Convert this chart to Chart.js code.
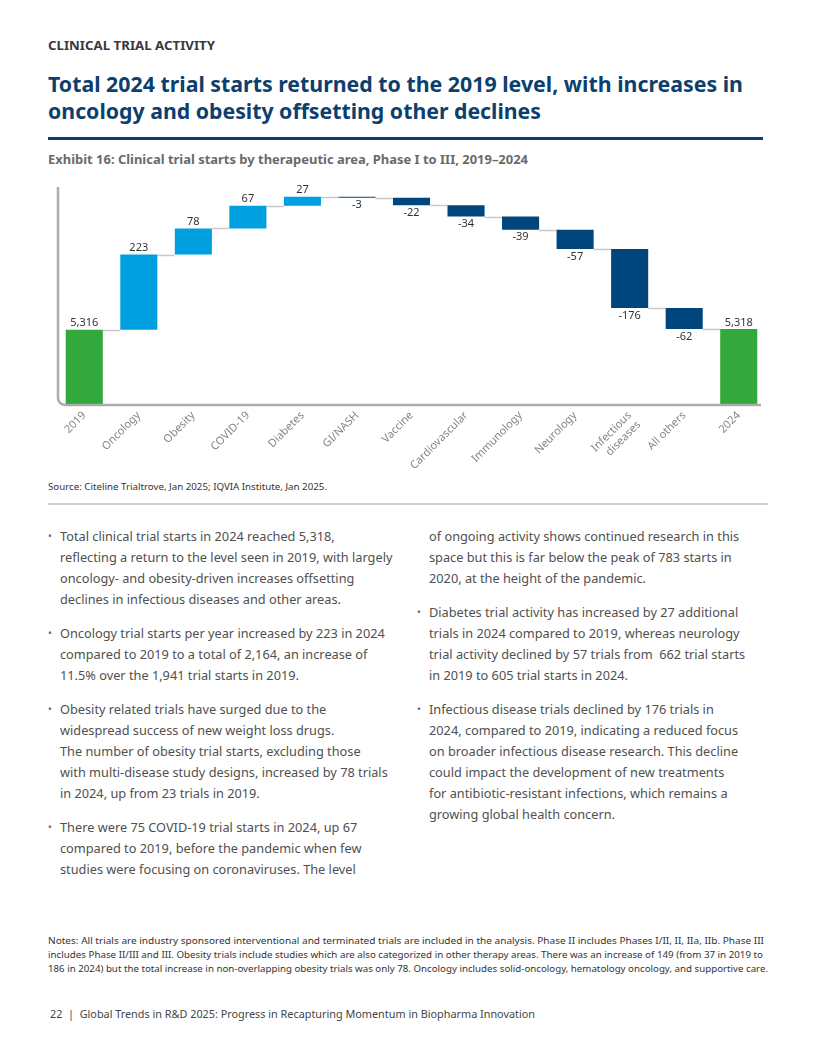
<!DOCTYPE html>
<html>
<head>
<meta charset="utf-8">
<script src="https://cdn.jsdelivr.net/npm/chart.js@4.4.1/dist/chart.umd.min.js"></script>
<style>
  html, body { margin: 0; padding: 0; background: #fff; }
  body { width: 816px; height: 1056px; position: relative; overflow: hidden; font-family: "Noto Sans", "Open Sans", sans-serif; }
  .abs { position: absolute; white-space: nowrap; }
  .fit { display: inline-block; transform-origin: 0 50%; }
  .kicker { left: 48px; top: 37px; font-size: 12px; font-weight: 700; color: #3a3a3a; line-height: 18px; }
  .title { left: 48px; top: 70px; font-size: 22px; font-weight: 700; color: #0d3f6e; line-height: 27px; }
  .rule { position: absolute; left: 48px; top: 137px; width: 715px; height: 3px; background: #0d3f6e; }
  .exhibit { left: 48px; top: 151px; font-size: 12px; font-weight: 700; color: #6a6a6a; line-height: 18px; }
  #chartBox { position: absolute; left: 48px; top: 180px; width: 720px; height: 300px; }
  .source { left: 48px; top: 481px; font-size: 9px; color: #333; line-height: 12px; }
  .grayrule { position: absolute; left: 48px; top: 503px; width: 720px; height: 2px; background: #d0d0d0; }
  .col { position: absolute; font-size: 12.75px; color: #505050; line-height: 21px; white-space: nowrap; }
  .col p { margin: 0 0 13px 0; position: relative; }
  .col p.b::before { content: "\2022"; position: absolute; left: -12px; top: 0; font-size: 10px; color: #666; }
  .notes { left: 48px; top: 934px; font-size: 8.5px; color: #333; line-height: 14px; }
  .footer { left: 50px; top: 1006px; font-size: 10.5px; color: #444; line-height: 16px; }
</style>
</head>
<body>
<div class="abs kicker"><span class="fit" data-w="167">CLINICAL TRIAL ACTIVITY</span></div>
<div class="abs title">
  <span class="fit" data-w="695">Total 2024 trial starts returned to the 2019 level, with increases in</span><br>
  <span class="fit" data-w="493">oncology and obesity offsetting other declines</span>
</div>
<div class="rule"></div>
<div class="abs exhibit"><span class="fit" data-w="480">Exhibit 16: Clinical trial starts by therapeutic area, Phase I to III, 2019–2024</span></div>

<div id="chartBox"><canvas id="chart"></canvas></div>

<div class="abs source"><span class="fit" data-w="279">Source: Citeline Trialtrove, Jan 2025; IQVIA Institute, Jan 2025.</span></div>
<div class="grayrule"></div>

<div class="col" style="left:60px; top:526px;">
  <p class="b">Total clinical trial starts in 2024 reached 5,318,<br>reflecting a return to the level seen in 2019, with largely<br>oncology- and obesity-driven increases offsetting<br>declines in infectious diseases and other areas.</p>
  <p class="b">Oncology trial starts per year increased by 223 in 2024<br>compared to 2019 to a total of 2,164, an increase of<br>11.5% over the 1,941 trial starts in 2019.</p>
  <p class="b">Obesity related trials have surged due to the<br>widespread success of new weight loss drugs.<br>The number of obesity trial starts, excluding those<br>with multi-disease study designs, increased by 78 trials<br>in 2024, up from 23 trials in 2019.</p>
  <p class="b">There were 75 COVID-19 trial starts in 2024, up 67<br>compared to 2019, before the pandemic when few<br>studies were focusing on coronaviruses. The level</p>
</div>
<div class="col" style="left:429px; top:526px;">
  <p>of ongoing activity shows continued research in this<br>space but this is far below the peak of 783 starts in<br>2020, at the height of the pandemic.</p>
  <p class="b">Diabetes trial activity has increased by 27 additional<br>trials in 2024 compared to 2019, whereas neurology<br>trial activity declined by 57 trials from&nbsp; 662 trial starts<br>in 2019 to 605 trial starts in 2024.</p>
  <p class="b">Infectious disease trials declined by 176 trials in<br>2024, compared to 2019, indicating a reduced focus<br>on broader infectious disease research. This decline<br>could impact the development of new treatments<br>for antibiotic-resistant infections, which remains a<br>growing global health concern.</p>
</div>

<div class="abs notes">
  <span class="fit" data-w="716">Notes: All trials are industry sponsored interventional and terminated trials are included in the analysis. Phase II includes Phases I/II, II, IIa, IIb. Phase III</span><br>
  <span class="fit" data-w="715">includes Phase II/III and III. Obesity trials include studies which are also categorized in other therapy areas. There was an increase of 149 (from 37 in 2019 to</span><br>
  <span class="fit" data-w="720">186 in 2024) but the total increase in non-overlapping obesity trials was only 78. Oncology includes solid-oncology, hematology oncology, and supportive care.</span>
</div>
<div class="abs footer"><span class="fit" data-w="485">22&nbsp; |&nbsp; Global Trends in R&amp;D 2025: Progress in Recapturing Momentum in Biopharma Innovation</span></div>

<script>
// waterfall data
const categories = ["2019", "Oncology", "Obesity", "COVID-19", "Diabetes", "GI/NASH", "Vaccine",
  "Cardiovascular", "Immunology", "Neurology", ["Infectious", "diseases"], "All others", "2024"];
const barValues = [5316, 223, 78, 67, 27, -3, -22, -34, -39, -57, -176, -62, 5318];
const isTotal = [true, false, false, false, false, false, false, false, false, false, false, false, true];

const yMin = 5095;
const yMax = 5740;

const GREEN = "#33a83c";
const LIGHT_BLUE = "#00a0e0";
const NAVY = "#00467c";

// floating ranges + running level after each bar
const ranges = [];
const levels = [];
let running = 0;
barValues.forEach((v, i) => {
  if (isTotal[i]) {
    ranges.push([yMin, v]);
    running = v;
  } else {
    ranges.push([running, running + v]);
    running += v;
  }
  levels.push(running);
});

const colors = barValues.map((v, i) => isTotal[i] ? GREEN : (v >= 0 ? LIGHT_BLUE : NAVY));

const fmt = (v) => v.toLocaleString("en-US");

const waterfallExtras = {
  id: "waterfallExtras",
  beforeDatasetsDraw(chart) {
    const { ctx } = chart;
    const meta = chart.getDatasetMeta(0);
    const y = chart.scales.y;
    ctx.save();
    // connectors
    ctx.strokeStyle = "#c9c9c9";
    ctx.lineWidth = 1.5;
    for (let i = 0; i < meta.data.length - 1; i++) {
      const a = meta.data[i], b = meta.data[i + 1];
      const py = Math.round(y.getPixelForValue(levels[i])) + 0.5;
      ctx.beginPath();
      ctx.moveTo(a.x + a.width / 2, py);
      ctx.lineTo(b.x - b.width / 2, py);
      ctx.stroke();
    }
    ctx.restore();
  },
  afterDatasetsDraw(chart) {
    const { ctx, chartArea } = chart;
    const meta = chart.getDatasetMeta(0);
    const y = chart.scales.y;
    ctx.save();
    // axis lines with rounded corner
    const r = 7;
    const left = chartArea.left + 1;
    const bottom = chartArea.bottom + 1;
    ctx.strokeStyle = "#ababab";
    ctx.lineWidth = 2.5;
    ctx.beginPath();
    ctx.moveTo(left, chartArea.top);
    ctx.lineTo(left, bottom - r);
    ctx.arcTo(left, bottom, left + r, bottom, r);
    ctx.lineTo(chartArea.right - 5, bottom);
    ctx.stroke();

    // value labels
    ctx.fillStyle = "#333";
    ctx.font = "11px 'Noto Sans', sans-serif";
    ctx.textAlign = "center";
    meta.data.forEach((bar, i) => {
      const v = barValues[i];
      const [lo, hi] = ranges[i];
      if (isTotal[i] || v >= 0) {
        ctx.textBaseline = "bottom";
        ctx.fillText(fmt(v), bar.x, y.getPixelForValue(Math.max(lo, hi)) - 1);
      } else {
        ctx.textBaseline = "top";
        ctx.fillText(fmt(v), bar.x, y.getPixelForValue(Math.min(lo, hi)) + 2);
      }
    });
    ctx.restore();
  }
};

new Chart(document.getElementById("chart"), {
  type: "bar",
  data: {
    labels: categories,
    datasets: [{
      data: ranges,
      backgroundColor: colors,
      borderWidth: 0,
      borderSkipped: false,
      categoryPercentage: 1,
      barPercentage: 0.68
    }]
  },
  options: {
    responsive: true,
    maintainAspectRatio: false,
    animation: false,
    layout: { padding: { left: 9, right: 2, top: 7, bottom: 0 } },
    plugins: { legend: { display: false }, tooltip: { enabled: false } },
    scales: {
      x: {
        grid: { display: false },
        border: { display: false },
        ticks: {
          color: "#858585",
          font: { family: "'Noto Sans', sans-serif", size: 11 },
          minRotation: 45,
          maxRotation: 45,
          padding: -3,
          autoSkip: false
        },
        afterFit(scale) { scale.height = 76; }
      },
      y: {
        display: false,
        min: yMin,
        max: yMax
      }
    }
  },
  plugins: [waterfallExtras]
});

function fitText() {
  document.querySelectorAll(".fit").forEach((el) => {
    el.style.transform = "none";
    const w = el.getBoundingClientRect().width;
    const target = parseFloat(el.dataset.w);
    if (w > 0) el.style.transform = "scaleX(" + (target / w) + ")";
  });
}
if (document.fonts && document.fonts.ready) document.fonts.ready.then(fitText);
fitText();
</script>
</body>
</html>
